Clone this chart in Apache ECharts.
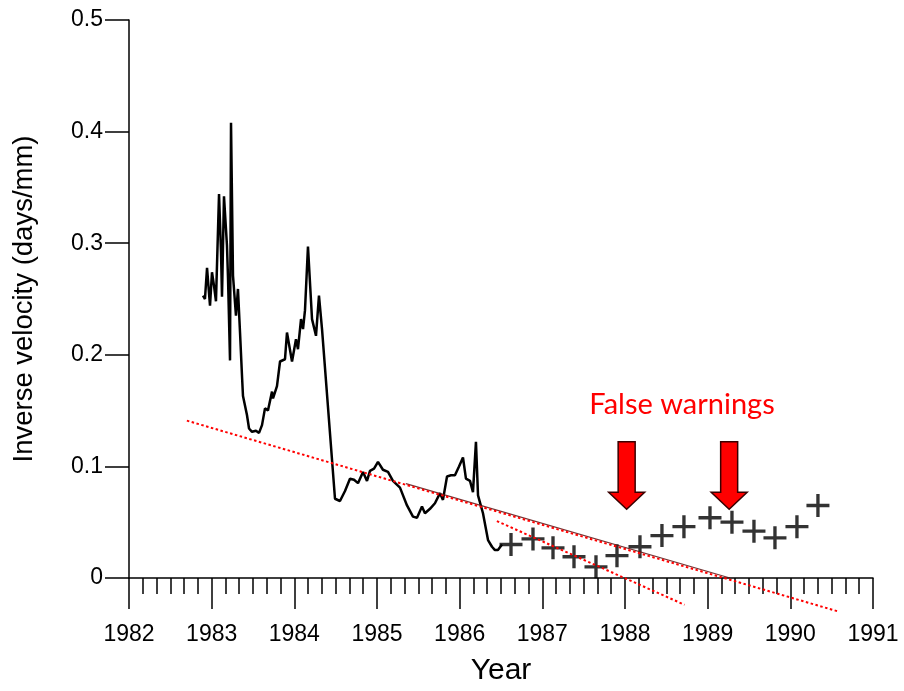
<!DOCTYPE html>
<html>
<head>
<meta charset="utf-8">
<script src="https://cdn.jsdelivr.net/npm/echarts@6/dist/echarts.min.js"></script>
<style>html,body{margin:0;padding:0;background:#fff;}#chart{width:904px;height:691px;}</style>
</head>
<body>
<div id="chart"></div>
<script>
// Continuous inverse-velocity record (year, days/mm)
var lineYears = [1982.895,1982.919,1982.944,1982.968,1982.980,1983.004,1983.028,1983.052,1983.089,1983.113,1983.125,1983.149,1983.185,1983.198,1983.222,1983.234,1983.258,1983.294,1983.318,1983.343,1983.367,1983.379,1983.427,1983.452,1983.488,1983.536,1983.573,1983.609,1983.645,1983.681,1983.730,1983.742,1983.790,1983.827,1983.887,1983.911,1983.972,1984.020,1984.044,1984.081,1984.105,1984.129,1984.165,1984.214,1984.262,1984.298,1984.335,1984.492,1984.552,1984.613,1984.673,1984.722,1984.770,1984.831,1984.879,1984.915,1984.964,1985.012,1985.072,1985.133,1985.193,1985.278,1985.363,1985.435,1985.484,1985.544,1985.580,1985.641,1985.701,1985.762,1985.798,1985.847,1985.895,1985.943,1985.992,1986.040,1986.076,1986.125,1986.161,1986.197,1986.222,1986.282,1986.343,1986.391,1986.427,1986.463,1986.512];
var lineValues = [0.253,0.250,0.278,0.255,0.244,0.274,0.262,0.248,0.344,0.292,0.252,0.342,0.298,0.268,0.195,0.408,0.271,0.235,0.259,0.220,0.181,0.163,0.146,0.134,0.131,0.132,0.130,0.137,0.152,0.150,0.167,0.161,0.172,0.194,0.196,0.220,0.194,0.214,0.205,0.232,0.223,0.240,0.297,0.232,0.217,0.253,0.223,0.071,0.069,0.078,0.089,0.088,0.085,0.095,0.087,0.096,0.098,0.104,0.097,0.095,0.087,0.081,0.065,0.055,0.054,0.064,0.058,0.062,0.067,0.076,0.070,0.091,0.092,0.092,0.100,0.108,0.089,0.087,0.077,0.122,0.074,0.058,0.034,0.028,0.025,0.025,0.030];
// Later individual readings (crosses)
var crossYears = [1986.621,1986.887,1987.129,1987.383,1987.649,1987.903,1988.181,1988.447,1988.713,1989.028,1989.294,1989.560,1989.814,1990.080,1990.334];
var crossValues = [0.030,0.035,0.027,0.019,0.010,0.020,0.028,0.038,0.046,0.054,0.050,0.042,0.036,0.046,0.065];
// Red dotted trend lines (end points)
var trend1Years = [1982.70, 1990.58];
var trend1Values = [0.141, -0.030];
var trend2Years = [1986.45, 1988.72];
var trend2Values = [0.051, -0.024];
// Darker overlapping segment of trend 1
var trend1DarkYears = [1985.35, 1989.27];
var trend1DarkValues = [0.0845, 0.0];
// Warning arrows: year, top value, tip value
var arrowYears = [1988.02, 1989.26];
var arrowTop = 0.122;
var arrowTip = 0.0616;
// Annotation
var noteText = 'False warnings';
var noteYear = 1988.69;
var noteValue = 0.155;
// Axis ticks
var xTickMin = 1982, xTickMax = 1991, xTickStep = 1;
var yTickMin = 0, yTickMax = 0.5, yTickStep = 0.1;

function zip(a, b) { return a.map(function (v, i) { return [v, b[i]]; }); }

var chart = echarts.init(document.getElementById('chart'), null, {renderer: 'canvas'});
var axisFont = 'Liberation Sans, Arial, sans-serif';
var option = {
  animation: false,
  backgroundColor: '#fff',
  grid: {left: 129, right: 31, top: 20, bottom: 111, containLabel: false},
  xAxis: {
    type: 'value', min: xTickMin, max: xTickMax, interval: xTickStep,
    name: 'Year', nameLocation: 'middle', nameGap: 78,
    nameTextStyle: {fontSize: 30, color: '#000', fontFamily: axisFont},
    axisLine: {show: true, onZero: false, lineStyle: {color: '#000', width: 1.5}},
    axisTick: {show: true, length: 31, lineStyle: {color: '#000', width: 1.5}},
    minorTick: {show: true, splitNumber: 6, length: 16, lineStyle: {color: '#000', width: 1.5}},
    splitLine: {show: false}, minorSplitLine: {show: false},
    axisLabel: {fontSize: 23, color: '#000', margin: 45, fontFamily: axisFont,
      formatter: function (v) { return String(Math.round(v)); }}
  },
  yAxis: {
    type: 'value', min: yTickMin, max: yTickMax, interval: yTickStep,
    name: 'Inverse velocity (days/mm)', nameLocation: 'middle', nameGap: 91,
    nameTextStyle: {fontSize: 27.5, color: '#000', fontFamily: axisFont},
    axisLine: {show: true, lineStyle: {color: '#000', width: 1.5}},
    axisTick: {show: true, length: 24, lineStyle: {color: '#000', width: 1.5}},
    splitLine: {show: false},
    axisLabel: {fontSize: 23, color: '#000', margin: 26, fontFamily: axisFont,
      formatter: function (v) { return v === 0 ? '0' : v.toFixed(1); }}
  },
  series: [
    {
      type: 'line', data: zip(lineYears, lineValues), showSymbol: false, z: 3,
      lineStyle: {color: '#000', width: 2.5}, silent: true
    },
    {
      type: 'scatter', data: zip(crossYears, crossValues), z: 4,
      symbol: 'path://M9.4,0h3.2v9.4h9.4v3.2h-9.4v9.4h-3.2v-9.4h-9.4v-3.2h9.4z',
      symbolSize: 23, itemStyle: {color: '#000'}, silent: true
    },
    {
      type: 'line', data: zip(trend1DarkYears, trend1DarkValues), showSymbol: false, z: 5,
      lineStyle: {color: '#5a1010', width: 1.2, opacity: 0.85}, silent: true
    },
    {
      type: 'line', data: zip(trend1Years, trend1Values), showSymbol: false, z: 6, clip: false,
      lineStyle: {color: '#ff0000', width: 2, type: [2.5, 2.5]}, silent: true
    },
    {
      type: 'line', data: zip(trend2Years, trend2Values), showSymbol: false, z: 6, clip: false,
      lineStyle: {color: '#ff0000', width: 2, type: [2.5, 2.5]}, silent: true
    },
    {
      type: 'custom', z: 7, silent: true,
      data: arrowYears.map(function (y) { return [y, arrowTop, arrowTip]; }),
      renderItem: function (params, api) {
        var top = api.coord([api.value(0), api.value(1)]);
        var tip = api.coord([api.value(0), api.value(2)]);
        var sw = 8.5, hw = 18, hh = 17;
        var cx = top[0];
        var pts = [
          [cx - sw, top[1]], [cx + sw, top[1]], [cx + sw, tip[1] - hh], [cx + hw, tip[1] - hh],
          [cx, tip[1]], [cx - hw, tip[1] - hh], [cx - sw, tip[1] - hh]
        ];
        return {type: 'polygon', shape: {points: pts},
          style: {fill: '#ff0000', stroke: '#3a0000', lineWidth: 1.5}};
      }
    },
    {
      type: 'custom', z: 8, silent: true,
      data: [[noteYear, noteValue]],
      renderItem: function (params, api) {
        var p = api.coord([api.value(0), api.value(1)]);
        return {type: 'text', x: p[0], y: p[1],
          style: {text: noteText, fill: '#ff0000', fontSize: 29, fontFamily: 'Lato, Open Sans, sans-serif',
            align: 'center', verticalAlign: 'middle'}};
      }
    }
  ]
};
chart.setOption(option);
</script>
</body>
</html>
